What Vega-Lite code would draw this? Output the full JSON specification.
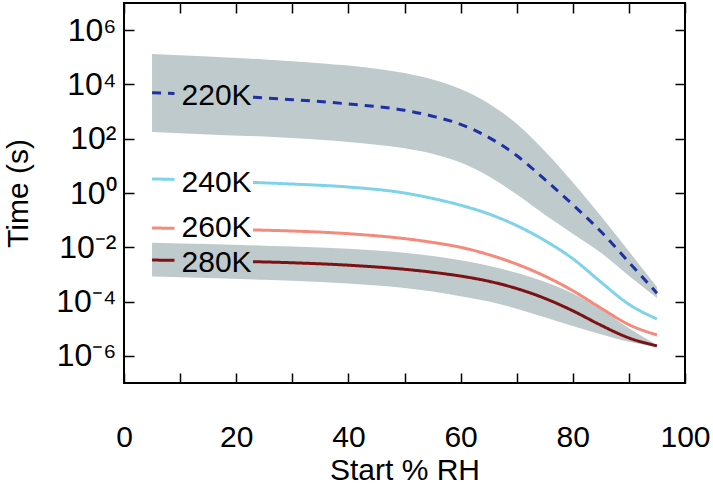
{
  "$schema": "https://vega.github.io/schema/vega-lite/v6.json",
  "width": 561,
  "height": 380,
  "autosize": {"type": "none"},
  "padding": {"left": 124, "top": 3, "right": 28, "bottom": 108},
  "background": "white",
  "config": {
    "view": {"stroke": "black", "strokeWidth": 2},
    "font": "Liberation Sans",
    "axis": {
      "domain": false,
      "grid": false,
      "tickColor": "black",
      "tickWidth": 1.5,
      "labelColor": "black",
      "labelFont": "Liberation Sans",
      "labelFontSize": 32,
      "titleFont": "Liberation Sans",
      "titleFontSize": 30,
      "titleFontWeight": "normal",
      "titleColor": "black"
    }
  },
  "datasets": {
    "bands": [
      {"band": "220K", "RH": 5, "hi": 131826, "lo": 177.8},
      {"band": "220K", "RH": 15, "hi": 107152, "lo": 144.5},
      {"band": "220K", "RH": 25, "hi": 83176, "lo": 120.2},
      {"band": "220K", "RH": 35, "hi": 60256, "lo": 91.2},
      {"band": "220K", "RH": 45, "hi": 38019, "lo": 60.26},
      {"band": "220K", "RH": 50, "hi": 26303, "lo": 44.67},
      {"band": "220K", "RH": 55, "hi": 15136, "lo": 28.18},
      {"band": "220K", "RH": 60, "hi": 6761, "lo": 13.18},
      {"band": "220K", "RH": 65, "hi": 1995, "lo": 4.169},
      {"band": "220K", "RH": 70, "hi": 354.8, "lo": 0.8913},
      {"band": "220K", "RH": 75, "hi": 35.48, "lo": 0.1585},
      {"band": "220K", "RH": 80, "hi": 2.512, "lo": 0.03162},
      {"band": "220K", "RH": 85, "hi": 0.1413, "lo": 0.00631},
      {"band": "220K", "RH": 90, "hi": 0.007079, "lo": 0.0008913},
      {"band": "220K", "RH": 95, "hi": 0.0003467, "lo": 0.0001349},
      {"band": "280K", "RH": 5, "hi": 0.01479, "lo": 0.0008318},
      {"band": "280K", "RH": 15, "hi": 0.01318, "lo": 0.0007413},
      {"band": "280K", "RH": 25, "hi": 0.01148, "lo": 0.000631},
      {"band": "280K", "RH": 35, "hi": 0.009772, "lo": 0.0005248},
      {"band": "280K", "RH": 45, "hi": 0.007586, "lo": 0.000389},
      {"band": "280K", "RH": 50, "hi": 0.00631, "lo": 0.0003162},
      {"band": "280K", "RH": 55, "hi": 0.004786, "lo": 0.0002344},
      {"band": "280K", "RH": 60, "hi": 0.003311, "lo": 0.0001585},
      {"band": "280K", "RH": 65, "hi": 0.002089, "lo": 0.0001},
      {"band": "280K", "RH": 70, "hi": 0.001148, "lo": 0.00005495},
      {"band": "280K", "RH": 75, "hi": 0.000537, "lo": 0.0000263},
      {"band": "280K", "RH": 80, "hi": 0.0001995, "lo": 0.00001259},
      {"band": "280K", "RH": 85, "hi": 0.00005248, "lo": 0.00000631},
      {"band": "280K", "RH": 90, "hi": 0.00001047, "lo": 0.000003311},
      {"band": "280K", "RH": 95, "hi": 0.000002512, "lo": 0.000002138}
    ],
    "lines": [
      {"T": "220K", "seg": 1, "RH": 5, "t": 4898},
      {"T": "220K", "seg": 1, "RH": 7, "t": 4786},
      {"T": "220K", "seg": 1, "RH": 9, "t": 4624},
      {"T": "220K", "seg": 2, "RH": 23, "t": 3388},
      {"T": "220K", "seg": 2, "RH": 30, "t": 2754},
      {"T": "220K", "seg": 2, "RH": 40, "t": 1905},
      {"T": "220K", "seg": 2, "RH": 50, "t": 1122},
      {"T": "220K", "seg": 2, "RH": 55, "t": 676.1},
      {"T": "220K", "seg": 2, "RH": 60, "t": 338.8},
      {"T": "220K", "seg": 2, "RH": 65, "t": 112.2},
      {"T": "220K", "seg": 2, "RH": 70, "t": 23.99},
      {"T": "220K", "seg": 2, "RH": 75, "t": 3.162},
      {"T": "220K", "seg": 2, "RH": 80, "t": 0.3715},
      {"T": "220K", "seg": 2, "RH": 85, "t": 0.03802},
      {"T": "220K", "seg": 2, "RH": 90, "t": 0.002818},
      {"T": "220K", "seg": 2, "RH": 95, "t": 0.0002042},
      {"T": "240K", "seg": 1, "RH": 5, "t": 3.311},
      {"T": "240K", "seg": 1, "RH": 7, "t": 3.236},
      {"T": "240K", "seg": 1, "RH": 9, "t": 3.162},
      {"T": "240K", "seg": 2, "RH": 23, "t": 2.455},
      {"T": "240K", "seg": 2, "RH": 30, "t": 2.138},
      {"T": "240K", "seg": 2, "RH": 40, "t": 1.66},
      {"T": "240K", "seg": 2, "RH": 50, "t": 1.0},
      {"T": "240K", "seg": 2, "RH": 55, "t": 0.631},
      {"T": "240K", "seg": 2, "RH": 60, "t": 0.3548},
      {"T": "240K", "seg": 2, "RH": 65, "t": 0.1698},
      {"T": "240K", "seg": 2, "RH": 70, "t": 0.0631},
      {"T": "240K", "seg": 2, "RH": 75, "t": 0.01778},
      {"T": "240K", "seg": 2, "RH": 80, "t": 0.003802},
      {"T": "240K", "seg": 2, "RH": 85, "t": 0.0005248},
      {"T": "240K", "seg": 2, "RH": 90, "t": 0.00007943},
      {"T": "240K", "seg": 2, "RH": 95, "t": 0.00002291},
      {"T": "260K", "seg": 1, "RH": 5, "t": 0.05129},
      {"T": "260K", "seg": 1, "RH": 7, "t": 0.0507},
      {"T": "260K", "seg": 1, "RH": 9, "t": 0.05012},
      {"T": "260K", "seg": 2, "RH": 23, "t": 0.04365},
      {"T": "260K", "seg": 2, "RH": 30, "t": 0.03981},
      {"T": "260K", "seg": 2, "RH": 40, "t": 0.03162},
      {"T": "260K", "seg": 2, "RH": 50, "t": 0.02089},
      {"T": "260K", "seg": 2, "RH": 55, "t": 0.01514},
      {"T": "260K", "seg": 2, "RH": 60, "t": 0.01},
      {"T": "260K", "seg": 2, "RH": 65, "t": 0.00537},
      {"T": "260K", "seg": 2, "RH": 70, "t": 0.002399},
      {"T": "260K", "seg": 2, "RH": 75, "t": 0.000871},
      {"T": "260K", "seg": 2, "RH": 80, "t": 0.0002512},
      {"T": "260K", "seg": 2, "RH": 85, "t": 0.00005754},
      {"T": "260K", "seg": 2, "RH": 90, "t": 0.00001413},
      {"T": "260K", "seg": 2, "RH": 95, "t": 0.000005888},
      {"T": "280K", "seg": 1, "RH": 5, "t": 0.003388},
      {"T": "280K", "seg": 1, "RH": 7, "t": 0.00335},
      {"T": "280K", "seg": 1, "RH": 9, "t": 0.003311},
      {"T": "280K", "seg": 2, "RH": 23, "t": 0.002951},
      {"T": "280K", "seg": 2, "RH": 30, "t": 0.002692},
      {"T": "280K", "seg": 2, "RH": 40, "t": 0.002188},
      {"T": "280K", "seg": 2, "RH": 50, "t": 0.001549},
      {"T": "280K", "seg": 2, "RH": 55, "t": 0.001202},
      {"T": "280K", "seg": 2, "RH": 60, "t": 0.000871},
      {"T": "280K", "seg": 2, "RH": 65, "t": 0.0005623},
      {"T": "280K", "seg": 2, "RH": 70, "t": 0.000302},
      {"T": "280K", "seg": 2, "RH": 75, "t": 0.0001318},
      {"T": "280K", "seg": 2, "RH": 80, "t": 0.00004571},
      {"T": "280K", "seg": 2, "RH": 85, "t": 0.00001349},
      {"T": "280K", "seg": 2, "RH": 90, "t": 0.000004571},
      {"T": "280K", "seg": 2, "RH": 95, "t": 0.000002344}
    ],
    "labels": [
      {"T": "220K", "RH": 16.5, "t": 3715},
      {"T": "240K", "RH": 16.5, "t": 2.43},
      {"T": "260K", "RH": 16.5, "t": 0.0513},
      {"T": "280K", "RH": 16.5, "t": 0.00275}
    ]
  },
  "layer": [
    {
      "data": {"name": "bands"},
      "mark": {"type": "area", "color": "#bfcacd", "opacity": 1, "interpolate": "monotone"},
      "encoding": {
        "x": {
          "field": "RH", "type": "quantitative",
          "scale": {"domain": [0, 100], "nice": false},
          "axis": {
            "orient": "bottom",
            "values": [0, 10, 20, 30, 40, 50, 60, 70, 80, 90, 100],
            "labelExpr": "datum.value % 20 === 0 ? datum.label : ''",
            "labelFlush": false,
            "labelOverlap": false,
            "labelFontSize": 30,
            "tickSize": -10,
            "labelPadding": 49,
            "title": "Start % RH",
            "titlePadding": 3
          }
        },
        "y": {
          "field": "hi", "type": "quantitative",
          "scale": {"type": "log", "domain": [1e-7, 1e7], "nice": false},
          "axis": {
            "orient": "left",
            "values": [1e-6, 1e-4, 1e-2, 1, 1e2, 1e4, 1e6],
            "labelExpr": "datum.value > 1e5 ? '10⁶' : datum.value > 1e3 ? '10⁴' : datum.value > 10 ? '10²' : datum.value > 0.1 ? '10⁰' : datum.value > 1e-3 ? '10⁻²' : datum.value > 1e-5 ? '10⁻⁴' : '10⁻⁶'",
            "labelFlush": false,
            "labelOverlap": false,
            "tickSize": -10,
            "labelPadding": 18,
            "title": "Time (s)",
            "titlePadding": 22
          }
        },
        "y2": {"field": "lo"},
        "detail": {"field": "band"}
      }
    },
    {
      "data": {"name": "lines"},
      "mark": {"type": "line", "strokeWidth": 3, "interpolate": "monotone"},
      "encoding": {
        "x": {
          "field": "RH", "type": "quantitative",
          "axis": {
            "orient": "top",
            "values": [0, 10, 20, 30, 40, 50, 60, 70, 80, 90, 100],
            "labels": false,
            "tickSize": -10,
            "title": null
          }
        },
        "y": {
          "field": "t", "type": "quantitative",
          "axis": {
            "orient": "right",
            "values": [1e-6, 1e-4, 1e-2, 1, 1e2, 1e4, 1e6],
            "labels": false,
            "tickSize": -10,
            "title": null
          }
        },
        "color": {
          "field": "T", "type": "nominal",
          "scale": {"domain": ["220K", "240K", "260K", "280K"], "range": ["#1f30a3", "#7fd3e8", "#f48a7c", "#7d1214"]},
          "legend": null
        },
        "strokeDash": {
          "field": "T", "type": "nominal",
          "scale": {"domain": ["220K", "240K", "260K", "280K"], "range": [[9, 7], [1, 0], [1, 0], [1, 0]]},
          "legend": null
        },
        "detail": {"field": "seg"}
      }
    },
    {
      "data": {"name": "labels"},
      "mark": {"type": "text", "fontSize": 30, "baseline": "middle", "align": "center", "color": "black", "font": "Liberation Sans"},
      "encoding": {
        "x": {"field": "RH", "type": "quantitative", "axis": null},
        "y": {"field": "t", "type": "quantitative", "axis": null},
        "text": {"field": "T"}
      }
    }
  ],
  "resolve": {"axis": {"x": "independent", "y": "independent"}}
}
